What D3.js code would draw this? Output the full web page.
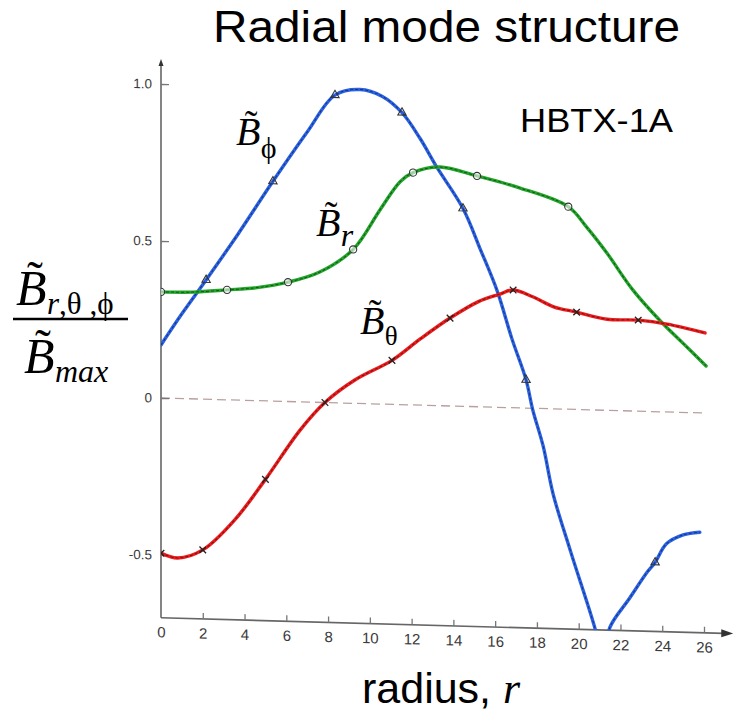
<!DOCTYPE html>
<html><head><meta charset="utf-8">
<script src="https://cdn.jsdelivr.net/npm/d3@7"></script>
<style>body{margin:0;background:#fff}</style>
</head><body>
<svg id="c" width="740" height="713" xmlns="http://www.w3.org/2000/svg"></svg>
<script>
// ---- data ----
const xTicks = [0,2,4,6,8,10,12,14,16,18,20,22,24,26];
const xTickLabels = ["0","2","4","6","8","10","12","14","16","18","20","22","24","26"];
const yTicks = [1.0,0.5,0,-0.5];
const yTickLabels = ["1.0","0.5","0","-0.5"];

// B_phi (blue)
const bphiR = [0,1,2.16,3.7,5.36,7,8.33,9.53,10.6,11.54,12.4,13.2,14.46,15.3,16.1,16.8,17.48,17.8,18.3,18.77,19.6,20.8,21.15,21.5,22.4,23.3,23.66,24.2,25,25.8];
const bphiV = [0.169,0.27,0.38,0.53,0.70,0.86,0.98,1.00,0.98,0.93,0.85,0.76,0.63,0.50,0.37,0.22,0.09,-0.005,-0.12,-0.27,-0.45,-0.70,-0.80,-0.69,-0.60,-0.51,-0.48,-0.42,-0.39,-0.38];
const bphiMarkR = [2.16,5.36,8.33,11.54,14.46,17.48,23.66];
const bphiMarkV = [0.38,0.70,0.98,0.93,0.63,0.09,-0.48];

// B_r (green)
const brR = [0,1.5,3.16,4.6,6.08,7.6,9.2,10.5,11.45,12.07,13.36,15.13,17.2,19.5,20.4,21.36,22.6,23.9,25,26.1];
const brV = [0.338,0.34,0.35,0.36,0.38,0.415,0.49,0.62,0.71,0.74,0.76,0.735,0.70,0.645,0.58,0.50,0.385,0.29,0.22,0.15];
const brMarkR = [0,3.16,6.08,9.2,12.07,15.13,19.5];
const brMarkV = [0.338,0.35,0.38,0.49,0.74,0.735,0.645];

// B_theta (red)
const btR = [0,0.8,2.0,3.55,5.0,6.66,7.85,9.3,11.06,12.4,13.84,15.2,16.2,16.86,17.8,18.8,19.9,21.36,22.85,24.23,26.05];
const btV = [-0.494,-0.508,-0.48,-0.38,-0.25,-0.09,0.0,0.075,0.14,0.21,0.28,0.335,0.36,0.375,0.355,0.325,0.31,0.29,0.29,0.28,0.255];
const btMarkR = [0,2.0,5.0,7.85,11.06,13.84,16.86,19.9,22.85];
const btMarkV = [-0.494,-0.48,-0.25,0.0,0.14,0.28,0.375,0.31,0.29];

// zero reference line
const zeroR = [0,26];
const zeroV = [0,0];

// ---- drawing ----
const svg = d3.select("#c");
const x = d3.scaleLinear().domain([0,26]).range([161,704]);
const y = d3.scaleLinear().domain([-0.5,1.0]).range([555,84]);
const yMin = -0.70, yTop = 1.07;
const k = 15/543; // scan skew of the original figure

const plot = svg.append("g")
  .attr("transform", `matrix(1,${k},0,1,0,${-k*161})`);

svg.append("defs").append("clipPath").attr("id","clip")
  .append("rect").attr("x",x(0)).attr("y",0)
  .attr("width",740-x(0)).attr("height",y(yMin));

// zero line
plot.append("path")
  .attr("d", d3.line().x(d=>x(d[0])).y(d=>y(d[1]))(zeroR.map((r,i)=>[r,zeroV[i]])))
  .attr("stroke","#b9a0a0").attr("stroke-width",1.3)
  .attr("stroke-dasharray","9,5").attr("fill","none");

// axes
const yAxis = d3.axisLeft(y).tickValues(yTicks).tickFormat((d,i)=>yTickLabels[i])
  .tickSizeInner(-8).tickSizeOuter(0).tickPadding(9);
const gy = plot.append("g").attr("transform",`translate(${x(0)},0)`).call(yAxis);
gy.select(".domain").attr("d",`M0,${y(yMin)}V${y(yTop)}`);
const xAxis = d3.axisBottom(x).tickValues(xTicks).tickFormat((d,i)=>xTickLabels[i])
  .tickSizeInner(-6).tickSizeOuter(0).tickPadding(9);
const gx = plot.append("g").attr("transform",`translate(0,${y(yMin)})`).call(xAxis);
gx.select(".domain").attr("d",`M${x(0)},0H${x(26.95)}`);
gx.selectAll(".tick").filter(d=>d===0).select("line").remove();
[gx,gy].forEach(g=>{
  g.select(".domain").attr("stroke","#666").attr("stroke-width",1.6);
  g.selectAll(".tick line").attr("stroke","#777").attr("stroke-width",1.3);
  g.selectAll(".tick text").attr("font-family","Liberation Sans, Arial, sans-serif")
    .attr("fill","#3a3a3a");
});
gx.selectAll(".tick text").attr("font-size",15);
gy.selectAll(".tick text").attr("font-size",13.5);
// arrow heads
plot.append("path").attr("d",`M${x(27.4)},${y(yMin)}l-12,-4v8z`).attr("fill","#333");
plot.append("path").attr("d",`M${x(0)},${y(yTop)-3}l-2.5,7h5z`).attr("fill","#333");

// curves
const lineGen = d3.line().x(d=>x(d[0])).y(d=>y(d[1])).curve(d3.curveCatmullRom.alpha(0.5));
const curves = plot.append("g").attr("clip-path","url(#clip)");
const series = [
  {r:bphiR, v:bphiV, c:"#2a62e8"},
  {r:brR, v:brV, c:"#22a62a"},
  {r:btR, v:btV, c:"#ee1c1c"}
];
series.forEach(s=>{
  const pts = s.r.map((r,i)=>[r,s.v[i]]);
  curves.append("path").attr("d",lineGen(pts)).attr("fill","none")
    .attr("stroke",s.c).attr("stroke-width",3.4).attr("stroke-linecap","round");
  curves.append("path").attr("d",lineGen(pts)).attr("fill","none")
    .attr("stroke","#111").attr("stroke-opacity",0.55).attr("stroke-width",1)
    .attr("stroke-dasharray","3,2");
});

// markers
const tri = d3.symbol().type(d3.symbolTriangle).size(30);
bphiMarkR.forEach((r,i)=>{
  curves.append("path").attr("d",tri()).attr("transform",`translate(${x(r)},${y(bphiMarkV[i])})`)
    .attr("fill","none").attr("stroke","#333").attr("stroke-width",1.1);
});
brMarkR.forEach((r,i)=>{
  curves.append("circle").attr("cx",x(r)).attr("cy",y(brMarkV[i])).attr("r",3.6)
    .attr("fill","#fff").attr("fill-opacity",0.6).attr("stroke","#333").attr("stroke-width",1.1);
});
const tmark = d3.symbol().type(d3.symbolTimes || d3.symbolCross).size(30);
btMarkR.forEach((r,i)=>{
  curves.append("path").attr("d",tmark()).attr("transform",`translate(${x(r)},${y(btMarkV[i])})`)
    .attr("fill","none").attr("stroke","#222").attr("stroke-width",1.3);
});

// ---- text ----
const sans = "Liberation Sans, Arial, sans-serif";
const serif = "Liberation Serif, Times New Roman, serif";
svg.append("text").attr("x",213).attr("y",42).attr("font-family",sans).attr("font-size",44)
  .attr("textLength",467).attr("lengthAdjust","spacingAndGlyphs").text("Radial mode structure");
svg.append("text").attr("x",520).attr("y",132).attr("font-family",sans).attr("font-size",33)
  .attr("textLength",153).attr("lengthAdjust","spacingAndGlyphs").text("HBTX-1A");
const xl = svg.append("text").attr("x",362).attr("y",703).attr("font-family",sans).attr("font-size",43);
xl.append("tspan").text("radius, ");
xl.append("tspan").attr("font-family",serif).attr("font-style","italic").attr("font-size",44).text("r");

// parts: [text, italic]
function btilde(px, py, size, parts, subSize, subDy){
  const g = svg.append("g");
  g.append("text").attr("x",px).attr("y",py).attr("font-family",serif).attr("font-style","italic")
    .attr("font-size",size).text("B");
  g.append("text").attr("x",px+size*0.22).attr("y",py-size*0.2).attr("font-family",serif)
    .attr("font-size",size*0.95).text("\u02DC");
  const t = g.append("text").attr("x",px+size*0.62).attr("y",py+subDy).attr("font-family",serif)
    .attr("font-size",subSize);
  parts.forEach(p=>t.append("tspan").attr("font-style",p[1]?"italic":"normal").text(p[0]));
}
btilde(236,145,40,[["\u03D5",false]],30,13);
btilde(316,236,40,[["r",true]],32,10);
btilde(360,334,40,[["\u03B8",false]],27,11);

// y label fraction
btilde(16,305,50,[["r",true],[",\u03B8 ,\u03D5",false]],31,9);
svg.append("line").attr("x1",13).attr("x2",128).attr("y1",319).attr("y2",319)
  .attr("stroke","#000").attr("stroke-width",2.5);
btilde(24,373,50,[["max",true]],32,9);
</script>
</body></html>
